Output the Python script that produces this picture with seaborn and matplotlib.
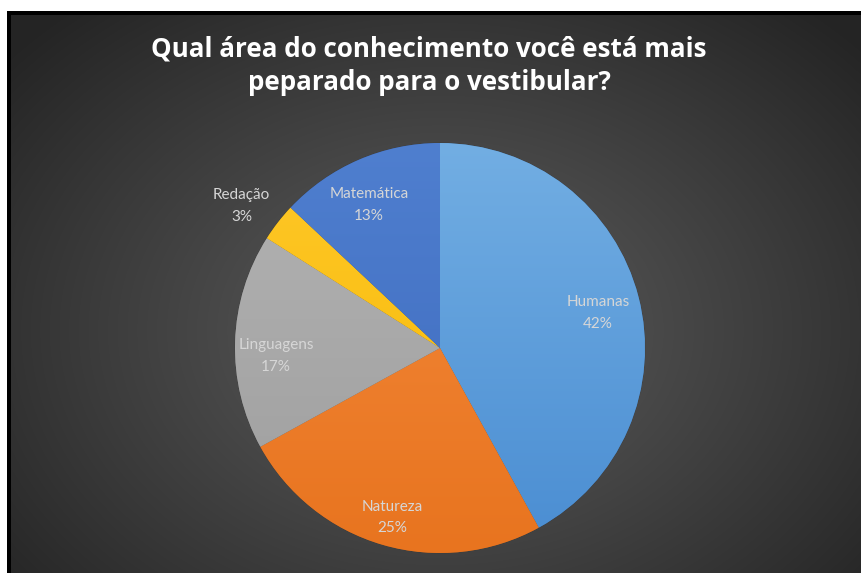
import numpy as np
import matplotlib
matplotlib.use("Agg")
import matplotlib.pyplot as plt
import matplotlib.colors as mcolors
import seaborn as sns

# ---- data ----
categories = ["Humanas", "Natureza", "Linguagens", "Redação", "Matemática"]
values = [42, 25, 17, 3, 13]
pct_labels = ["42%", "25%", "17%", "3%", "13%"]
title_text = "Qual área do conhecimento você está mais\npeparado para o vestibular?"

# ---- style ----
sns.set_style("white")
plt.rcParams["font.family"] = ["Lato", "DejaVu Sans"]
top_colors = ["#72aee3", "#f48a3c", "#b3b3b3", "#ffc82a", "#4f7fcf"]
bot_colors = ["#4a8dd2", "#e8741f", "#9e9e9e", "#f5b800", "#3d69bd"]
label_r = [0.79, 0.86, 0.80, 1.19, 0.78]
label_da = [-2.0, 0.4, 4.6, 2.2, 3.0]

W, H = 861, 573
fig = plt.figure(figsize=(W / 100, H / 100), dpi=100)
fig.patch.set_facecolor("white")

# black border (left & top)
bax = fig.add_axes([7 / W, 0, (W - 7) / W, (H - 11) / H])
bax.set_facecolor("black")
bax.set_xticks([]); bax.set_yticks([])
for s in bax.spines.values():
    s.set_visible(False)

# gradient background
gax = fig.add_axes([11 / W, 0, (W - 11) / W, (H - 15) / H])
gh, gw = H - 15, W - 11
yy, xx = np.mgrid[0:gh, 0:gw]
cx, cy = 440 - 11, 330 - 15
d = np.sqrt(((xx - cx) / 560.0) ** 2 + ((yy - cy) / 420.0) ** 2)
d = np.clip(d, 0, 1)
val = (92 - (92 - 37) * d ** 1.1) / 255.0
img = np.dstack([val, val, val])
gax.imshow(img, aspect="auto", extent=[0, 1, 0, 1], origin="upper")
gax.set_xlim(0, 1); gax.set_ylim(0, 1)
gax.axis("off")

# title
fig.text(429 / W, 1 - 66 / H, title_text, ha="center", va="center",
         color="white", fontsize=18.7, fontweight="bold",
         family=["Open Sans", "DejaVu Sans"], linespacing=1.32)

# pie
R = 205
cxp, cyp = 440, 348
ax = fig.add_axes([(cxp - R) / W, (H - cyp - R) / H, 2 * R / W, 2 * R / H])
ax.set_facecolor("none")
wedges, _ = ax.pie(values, startangle=90, counterclock=False,
                   colors=bot_colors, radius=1,
                   wedgeprops=dict(edgecolor=(0.2, 0.2, 0.2, 0.4), linewidth=0.6))
ax.axis("off")

grad = np.linspace(0, 1, 256)[:, None]
for w, tc, bc in zip(wedges, top_colors, bot_colors):
    cmap = mcolors.LinearSegmentedColormap.from_list("g", [bc, tc])
    im = ax.imshow(np.repeat(grad, 2, axis=1), cmap=cmap, extent=[-1, 1, -1, 1],
                   origin="lower", aspect="auto", zorder=1.5)
    im.set_clip_path(w)

total = sum(values)
start = 90.0
for cat, v, p, r, da in zip(categories, values, pct_labels, label_r, label_da):
    span = 360.0 * v / total
    mid = np.deg2rad(start - span / 2 + da)
    start -= span
    ax.text(r * np.cos(mid), r * np.sin(mid), f"{cat}\n{p}", ha="center", va="center",
            color="#d6d6d6", fontsize=11, linespacing=1.7, zorder=5)
ax.set_xlim(-1, 1); ax.set_ylim(-1, 1)
ax.set_aspect("equal")

fig.savefig("out.png", dpi=100, facecolor="white")
